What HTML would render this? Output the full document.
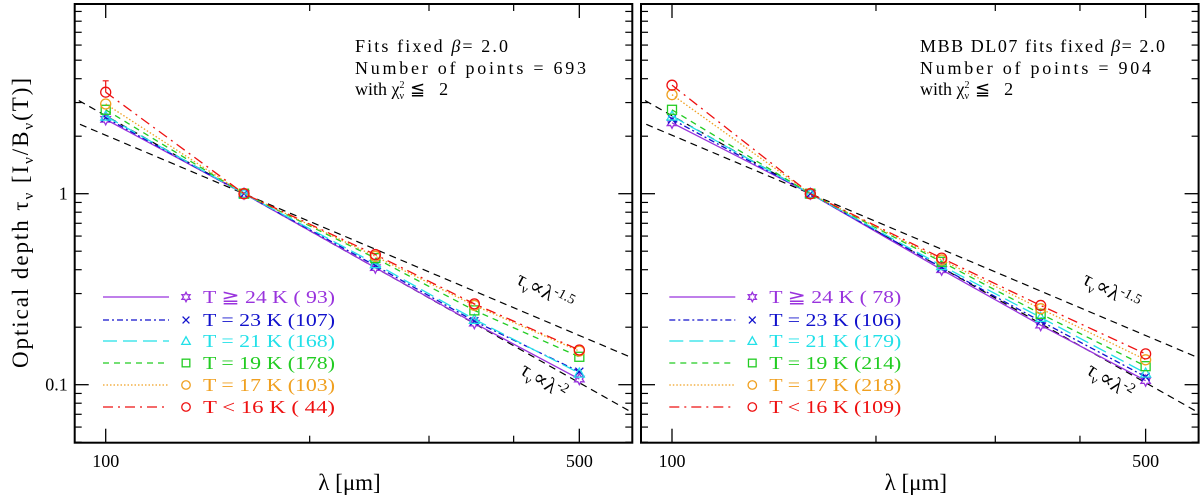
<!DOCTYPE html>
<html><head><meta charset="utf-8">
<style>
html,body{margin:0;padding:0;background:#fff;}
svg{display:block;font-family:"Liberation Serif","DejaVu Serif",serif;}
</style></head>
<body>
<svg id="chart" width="1200" height="497" viewBox="0 0 1200 497" xmlns="http://www.w3.org/2000/svg"></svg>
<script>
const wavelengths = [100, 160, 250, 350, 500];
const seriesNames = ["ge24", "t23", "t21", "t19", "t17", "lt16"];
const leftPurple = [2.45, 1, 0.41, 0.21, 0.107];
const leftBlue = [2.5, 1, 0.42, 0.215, 0.117];
const leftCyan = [2.55, 1, 0.43, 0.22, 0.115];
const leftGreen = [2.75, 1, 0.46, 0.245, 0.14];
const leftOrange = [2.95, 1, 0.47, 0.26, 0.15];
const leftRed = [3.4, 1, 0.48, 0.265, 0.152];
const rightPurple = [2.35, 1, 0.40, 0.205, 0.105];
const rightBlue = [2.45, 1, 0.41, 0.215, 0.11];
const rightCyan = [2.55, 1, 0.42, 0.225, 0.115];
const rightGreen = [2.75, 1, 0.44, 0.235, 0.125];
const rightOrange = [3.3, 1, 0.45, 0.25, 0.135];
const rightRed = [3.7, 1, 0.46, 0.26, 0.145];
const leftCounts = ["( 93)", "(107)", "(168)", "(178)", "(103)", "( 44)"];
const rightCounts = ["( 78)", "(106)", "(179)", "(214)", "(218)", "(109)"];
const tempLabels = ["T \u2267 24 K", "T = 23 K", "T = 21 K", "T = 19 K", "T = 17 K", "T < 16 K"];
const xTickMajor = [100, 500];
const xTickMinor = [90, 200, 300, 400, 600];
const yTickMajor = [0.1, 1];
const yTickMinor = [0.05,0.06,0.07,0.08,0.09,0.2,0.3,0.4,0.5,0.6,0.7,0.8,0.9,2,3,4,5,6,7,8,9];
const powerSlopes = [1.5, 2];
const refWavelength = 160;
const leftErr = [3.9];

const colors = ["#9933dd","#1111cc","#22e0e8","#22cc22","#f0a020","#ee1111"];
const dashes = ["", "6 3 2 3", "14 6", "6 5", "1.5 2", "10 5 2 5"];
const NS = "http://www.w3.org/2000/svg";
const svg = document.getElementById("chart");
function el(tag, attrs, parent) {
  const e = document.createElementNS(NS, tag);
  for (const k in attrs) e.setAttribute(k, attrs[k]);
  (parent || svg).appendChild(e);
  return e;
}
const PX_DEC = 677.6, PY_DEC = 191;
function makePanel(off, name, series, counts, notes, errTop) {
  const g = el("g", {});
  
  
  const L = 74.7 + off, R = 632.3 + off, T = 4, B = 442.7;
  const xs = v => 105.7 + off + Math.log10(v / 100) * PX_DEC;
  const ys = v => 193.7 - Math.log10(v) * PY_DEC;
  const cid = "clip" + name;
  const cp = el("clipPath", {id: cid}, g);
  el("rect", {x: L, y: T, width: R - L, height: B - T}, cp);
  xTickMajor.forEach(v => {
    el("line", {x1: xs(v), x2: xs(v), y1: B, y2: B - 14, stroke: "#000", "stroke-width": 1.3}, g);
    el("line", {x1: xs(v), x2: xs(v), y1: T, y2: T + 14, stroke: "#000", "stroke-width": 1.3}, g);
    const t = el("text", {x: xs(v), y: 467, "text-anchor": "middle", "font-size": 18}, g);
    t.textContent = v;
    
    
  });
  xTickMinor.forEach(v => {
    if (xs(v) < L || xs(v) > R) return;
    el("line", {x1: xs(v), x2: xs(v), y1: B, y2: B - 7, stroke: "#000", "stroke-width": 1.2}, g);
    el("line", {x1: xs(v), x2: xs(v), y1: T, y2: T + 7, stroke: "#000", "stroke-width": 1.2}, g);
  });
  yTickMajor.forEach(v => {
    el("line", {x1: L, x2: L + 14, y1: ys(v), y2: ys(v), stroke: "#000", "stroke-width": 1.3}, g);
    el("line", {x1: R, x2: R - 14, y1: ys(v), y2: ys(v), stroke: "#000", "stroke-width": 1.3}, g);
    if (off === 0) {
      const t = el("text", {x: L - 7, y: ys(v) + 6, "text-anchor": "end", "font-size": 18}, g);
      t.textContent = v;
      
      
    }
  });
  yTickMinor.forEach(v => {
    if (ys(v) < T || ys(v) > B) return;
    el("line", {x1: L, x2: L + 7, y1: ys(v), y2: ys(v), stroke: "#000", "stroke-width": 1.2}, g);
    el("line", {x1: R, x2: R - 7, y1: ys(v), y2: ys(v), stroke: "#000", "stroke-width": 1.2}, g);
  });
  const cg = el("g", {"clip-path": "url(#" + cid + ")"}, g);
  powerSlopes.forEach(s => {
    const f = v => Math.pow(refWavelength / v, s);
    const l = el("line", {x1: xs(85), y1: ys(f(85)), x2: xs(650), y2: ys(f(650)), stroke: "#000", "stroke-width": 1.2, "stroke-dasharray": "7 5"}, cg);
    
    
  });
  series.forEach((vals, i) => {
    const sg = el("g", {}, cg);
    
    
    const pts = vals.map((v, j) => xs(wavelengths[j]) + "," + ys(v)).join(" ");
    el("polyline", {points: pts, fill: "none", stroke: colors[i], "stroke-width": 1.3, "stroke-dasharray": dashes[i]}, sg);
    vals.forEach((v, j) => drawMarker(sg, i, xs(wavelengths[j]), ys(v)));
  });
  if (errTop) {
    const x = xs(wavelengths[0]);
    el("line", {x1: x, x2: x, y1: ys(series[5][0]), y2: ys(errTop), stroke: colors[5], "stroke-width": 1.2}, cg);
    el("line", {x1: x - 3, x2: x + 3, y1: ys(errTop), y2: ys(errTop), stroke: colors[5], "stroke-width": 1.2}, cg);
  }
  el("rect", {x: L, y: T, width: R - L, height: B - T, fill: "none", stroke: "#000", "stroke-width": 2}, g);
  const lg = el("g", {}, g);
  
  
  const rows = [297, 320, 341, 363, 385, 407];
  series.forEach((vals, i) => {
    const y = rows[i];
    const eg = el("g", {}, lg);
    
    
    el("line", {x1: 103 + off, x2: 169 + off, y1: y, y2: y, stroke: colors[i], "stroke-width": 1.3, "stroke-dasharray": dashes[i]}, eg);
    drawMarker(eg, i, 186 + off, y, 0.85);
    const t = el("text", {x: 203 + off, y: y + 6, fill: colors[i], "font-size": 18, textLength: 132, lengthAdjust: "spacingAndGlyphs"}, eg);
    t.textContent = tempLabels[i] + " " + counts[i];
  });
  const ag = el("g", {}, g);
  
  
  const nx = off === 0 ? 355 : 920;
  const t1 = el("text", {x: nx, y: 52, "font-size": 18, textLength: off === 0 ? 153 : 245, lengthAdjust: "spacing"}, ag);
  t1.innerHTML = notes + " <tspan font-style='italic'>\u03b2</tspan>= 2.0";
  const t2 = el("text", {x: nx, y: 74, "font-size": 18, textLength: 231, lengthAdjust: "spacing"}, ag);
  t2.textContent = "Number of points =  " + (off === 0 ? "693" : "904");
  const t3 = el("text", {x: nx, y: 95, "font-size": 18}, ag);
  t3.innerHTML = "with \u03c7<tspan font-size='10' dy='-7'>2</tspan><tspan font-size='10' dx='-5' dy='11'>\u03bd</tspan><tspan dy='-4' dx='6'>\u2266</tspan><tspan dx='14'>2</tspan>";
  const s1 = el("text", {x: 0, y: 0, "font-size": 21, transform: `translate(${off + 515},${283}) rotate(28)`}, g);
  s1.innerHTML = "\u03c4<tspan font-size='13' dy='5'>\u03bd</tspan><tspan dy='-5'>\u221d\u03bb</tspan><tspan font-size='14' dy='-8'>-1.5</tspan>";
  
  
  const s2 = el("text", {x: 0, y: 0, "font-size": 21, transform: `translate(${off + 519},${373}) rotate(33)`}, g);
  s2.innerHTML = "\u03c4<tspan font-size='13' dy='5'>\u03bd</tspan><tspan dy='-5'>\u221d\u03bb</tspan><tspan font-size='14' dy='-8'>-2</tspan>";
  
  
  const xl = el("text", {x: (L + R) / 2 - 4, y: 490, "text-anchor": "middle", "font-size": 23}, g);
  xl.textContent = "\u03bb [\u03bcm]";
  
  
}
function drawMarker(parent, i, x, y, sc) {
  sc = sc || 1;
  const c = colors[i];
  const a = {fill: "none", stroke: c, "stroke-width": 1.3};
  if (i === 0) {
    const p = [];
    for (let k = 0; k < 12; k++) { const r = (k % 2 ? 3 : 5.5) * sc; const t = k * Math.PI / 6 - Math.PI / 2; p.push((x + r * Math.cos(t)) + "," + (y + r * Math.sin(t))); }
    el("polygon", Object.assign({points: p.join(" ")}, a), parent);
  } else if (i === 1) {
    const d = 4 * sc;
    el("path", Object.assign({d: `M${x-d},${y-d}L${x+d},${y+d}M${x-d},${y+d}L${x+d},${y-d}`}, a), parent);
  } else if (i === 2) {
    const d = 5 * sc;
    el("polygon", Object.assign({points: `${x},${y-d} ${x+d},${y+d*0.8} ${x-d},${y+d*0.8}`}, a), parent);
  } else if (i === 3) {
    const d = 4.5 * sc;
    el("rect", Object.assign({x: x - d, y: y - d, width: 2 * d, height: 2 * d}, a), parent);
  } else {
    el("circle", Object.assign({cx: x, cy: y, r: 5 * sc}, a), parent);
  }
}
makePanel(0, "left-panel", [leftPurple, leftBlue, leftCyan, leftGreen, leftOrange, leftRed], leftCounts, "Fits fixed", leftErr[0]);
makePanel(566.3, "right-panel", [rightPurple, rightBlue, rightCyan, rightGreen, rightOrange, rightRed], rightCounts, "MBB DL07 fits fixed", null);
const yl = el("text", {x: 0, y: 0, "text-anchor": "middle", "font-size": 23, textLength: 290, lengthAdjust: "spacing", transform: "translate(28,223) rotate(-90)"});
yl.innerHTML = "Optical depth \u03c4<tspan font-size='15' dy='5'>\u03bd</tspan><tspan dy='-5'> [I</tspan><tspan font-size='15' dy='5'>\u03bd</tspan><tspan dy='-5'>/B</tspan><tspan font-size='15' dy='5'>\u03bd</tspan><tspan dy='-5'>(T)]</tspan>";


</script>
</body></html>
